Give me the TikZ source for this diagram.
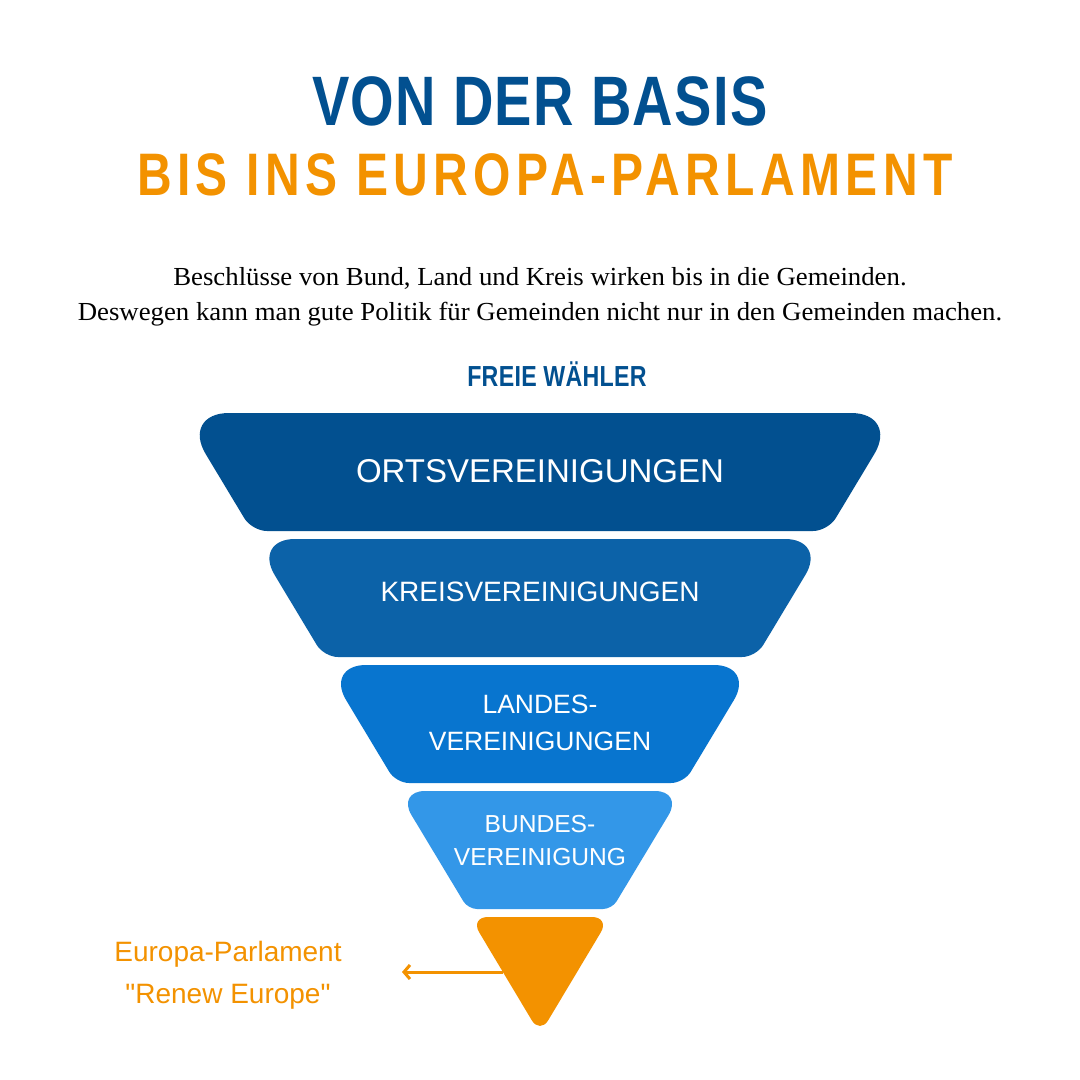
\documentclass[tikz,border=0pt]{standalone}
\usepackage{fontspec}
\setmainfont{Liberation Serif}
\setsansfont{Liberation Sans}
\newfontfamily\headfont[FakeStretch=0.8]{Liberation Sans}
\newfontfamily\bodyfont[FakeStretch=1.03]{Liberation Serif}
\usepackage{xcolor}
\usepackage{tikz}
\usetikzlibrary{arrows.meta}
\definecolor{fwblue}{RGB}{2,80,144}
\definecolor{kreisblue}{RGB}{12,98,168}
\definecolor{landblue}{RGB}{8,117,207}
\definecolor{bundblue}{RGB}{51,151,232}
\definecolor{fworange}{RGB}{243,146,0}

\begin{document}
\begin{tikzpicture}[x=1pt,y=-1pt,
  headline/.style={inner sep=0pt,anchor=base},
  bandlabel/.style={text=white,inner sep=0pt,align=center}]

\useasboundingbox (0,0) rectangle (1080,1080);
\fill[white] (0,0) rectangle (1080,1080);

% Title
\node[headline,text=fwblue,font=\headfont\bfseries\fontsize{70}{80}\selectfont\addfontfeature{LetterSpace=2}] (title) at (540,125) {VON DER BASIS};
\node[headline,text=fworange,font=\headfont\bfseries\fontsize{60}{70}\selectfont\addfontfeature{LetterSpace=9}] (subtitle) at (545,195) {BIS INS EUROPA-PARLAMENT};

% Intro text
\node[headline,font=\bodyfont\fontsize{26}{30}\selectfont] (introa) at (540,285) {Beschlüsse von Bund, Land und Kreis wirken bis in die Gemeinden.};
\node[headline,font=\bodyfont\fontsize{26}{30}\selectfont] (introb) at (540,320) {Deswegen kann man gute Politik für Gemeinden nicht nur in den Gemeinden machen.};
\node[headline,text=fwblue,font=\headfont\bfseries\fontsize{29}{34}\selectfont\addfontfeature{LetterSpace=1}] (party) at (557,386) {FREIE WÄHLER};

% === Band 1: Ortsvereinigungen ===
\fill[fwblue] (540,413) [rounded corners=48pt] -- (899,413) [rounded corners=15pt] -- (828,531) -- (252,531) [rounded corners=48pt] -- (181,413) -- cycle;
\node[bandlabel,anchor=base,font=\sffamily\fontsize{33}{40}\selectfont] (orts) at (540,482) {ORTSVEREINIGUNGEN};

% === Band 2: Kreisvereinigungen ===
\fill[kreisblue] (540,539) [rounded corners=42pt] -- (827,539) [rounded corners=14pt] -- (756,657) -- (324,657) [rounded corners=42pt] -- (253,539) -- cycle;
\node[bandlabel,anchor=base,font=\sffamily\fontsize{28}{34}\selectfont] (kreis) at (540,601) {KREISVEREINIGUNGEN};

% === Band 3: Landesvereinigungen ===
\fill[landblue] (540,665) [rounded corners=41pt] -- (755,665) [rounded corners=13pt] -- (684,783) -- (396,783) [rounded corners=41pt] -- (325,665) -- cycle;
\node[bandlabel,font=\sffamily\fontsize{26.5}{37}\selectfont] (landes) at (540,723) {LANDES-\\VEREINIGUNGEN};

% === Band 4: Bundesvereinigung ===
\fill[bundblue] (540,791) [rounded corners=28pt] -- (683,791) [rounded corners=9pt] -- (612,909) -- (468,909) [rounded corners=28pt] -- (397,791) -- cycle;
\node[bandlabel,font=\sffamily\fontsize{24.6}{33}\selectfont] (bundes) at (540,841) {BUNDES-\\VEREINIGUNG};

% === Tip: Europa-Parlament ===
\coordinate (trileft) at (503,972);
\coordinate (arrowtip) at (402,972);
\draw[fworange,line width=3pt,-{Straight Barb[length=6pt,width=14pt]}] (trileft) -- (arrowtip);
\fill[fworange] (540,917) [rounded corners=18pt] -- (610,917) [rounded corners=16pt] -- (540,1034) [rounded corners=18pt] -- (470,917) -- cycle;
\node[text=fworange,inner sep=0pt,align=center,font=\sffamily\fontsize{28}{42}\selectfont] (europa) at (228,975) {Europa-Parlament\\\textquotedbl Renew Europe\textquotedbl};

\end{tikzpicture}
\end{document}
